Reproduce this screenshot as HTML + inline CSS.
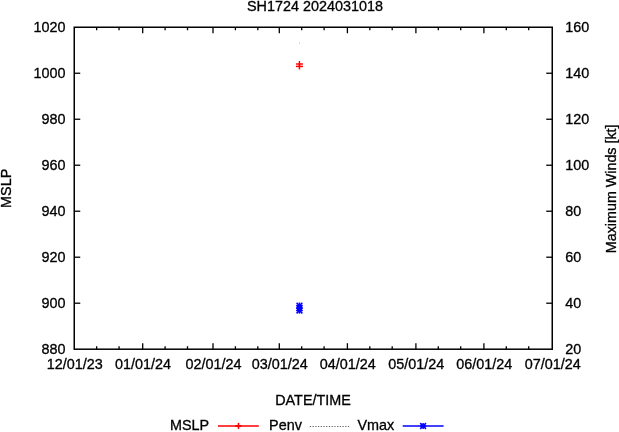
<!DOCTYPE html>
<html><head><meta charset="utf-8"><title>SH1724 2024031018</title>
<style>
html,body{margin:0;padding:0;background:#fff;overflow:hidden}
svg{display:block}
text{font-family:"Liberation Sans",Arial,sans-serif;font-size:14.4px;fill:#000;stroke:#000;stroke-width:0.3px}
</style></head><body>
<svg width="619" height="432" viewBox="0 0 619 432">
<rect width="619" height="432" fill="#fff"/>
<rect x="74.25" y="27.25" width="478.0" height="321.95" fill="none" stroke="#000" stroke-width="1.5"/>
<text transform="translate(65.60,32.40) scale(1,1.05)" text-anchor="end">1020</text>
<text transform="translate(565.30,32.40) scale(1,1.05)">160</text>
<line x1="74.25" y1="73.24" x2="80.25" y2="73.24" stroke="#000" stroke-width="1.3" />
<line x1="546.25" y1="73.24" x2="552.25" y2="73.24" stroke="#000" stroke-width="1.3" />
<text transform="translate(65.60,78.39) scale(1,1.05)" text-anchor="end">1000</text>
<text transform="translate(565.30,78.39) scale(1,1.05)">140</text>
<line x1="74.25" y1="119.24" x2="80.25" y2="119.24" stroke="#000" stroke-width="1.3" />
<line x1="546.25" y1="119.24" x2="552.25" y2="119.24" stroke="#000" stroke-width="1.3" />
<text transform="translate(65.60,124.39) scale(1,1.05)" text-anchor="end">980</text>
<text transform="translate(565.30,124.39) scale(1,1.05)">120</text>
<line x1="74.25" y1="165.23" x2="80.25" y2="165.23" stroke="#000" stroke-width="1.3" />
<line x1="546.25" y1="165.23" x2="552.25" y2="165.23" stroke="#000" stroke-width="1.3" />
<text transform="translate(65.60,170.38) scale(1,1.05)" text-anchor="end">960</text>
<text transform="translate(565.30,170.38) scale(1,1.05)">100</text>
<line x1="74.25" y1="211.22" x2="80.25" y2="211.22" stroke="#000" stroke-width="1.3" />
<line x1="546.25" y1="211.22" x2="552.25" y2="211.22" stroke="#000" stroke-width="1.3" />
<text transform="translate(65.60,216.37) scale(1,1.05)" text-anchor="end">940</text>
<text transform="translate(565.30,216.37) scale(1,1.05)">80</text>
<line x1="74.25" y1="257.21" x2="80.25" y2="257.21" stroke="#000" stroke-width="1.3" />
<line x1="546.25" y1="257.21" x2="552.25" y2="257.21" stroke="#000" stroke-width="1.3" />
<text transform="translate(65.60,262.36) scale(1,1.05)" text-anchor="end">920</text>
<text transform="translate(565.30,262.36) scale(1,1.05)">60</text>
<line x1="74.25" y1="303.21" x2="80.25" y2="303.21" stroke="#000" stroke-width="1.3" />
<line x1="546.25" y1="303.21" x2="552.25" y2="303.21" stroke="#000" stroke-width="1.3" />
<text transform="translate(65.60,308.36) scale(1,1.05)" text-anchor="end">900</text>
<text transform="translate(565.30,308.36) scale(1,1.05)">40</text>
<text transform="translate(65.60,354.35) scale(1,1.05)" text-anchor="end">880</text>
<text transform="translate(565.30,354.35) scale(1,1.05)">20</text>
<text transform="translate(74.65,369.00) scale(1,1.05)" text-anchor="middle">12/01/23</text>
<line x1="96.65" y1="349.2" x2="96.65" y2="346.2" stroke="#000" stroke-width="1.3" />
<line x1="96.65" y1="27.25" x2="96.65" y2="30.25" stroke="#000" stroke-width="1.3" />
<line x1="119.05" y1="349.2" x2="119.05" y2="346.2" stroke="#000" stroke-width="1.3" />
<line x1="119.05" y1="27.25" x2="119.05" y2="30.25" stroke="#000" stroke-width="1.3" />
<line x1="142.70" y1="349.2" x2="142.70" y2="343.2" stroke="#000" stroke-width="1.3" />
<line x1="142.70" y1="27.25" x2="142.70" y2="33.25" stroke="#000" stroke-width="1.3" />
<text transform="translate(143.10,369.00) scale(1,1.05)" text-anchor="middle">01/01/24</text>
<line x1="165.10" y1="349.2" x2="165.10" y2="346.2" stroke="#000" stroke-width="1.3" />
<line x1="165.10" y1="27.25" x2="165.10" y2="30.25" stroke="#000" stroke-width="1.3" />
<line x1="187.50" y1="349.2" x2="187.50" y2="346.2" stroke="#000" stroke-width="1.3" />
<line x1="187.50" y1="27.25" x2="187.50" y2="30.25" stroke="#000" stroke-width="1.3" />
<line x1="213.00" y1="349.2" x2="213.00" y2="343.2" stroke="#000" stroke-width="1.3" />
<line x1="213.00" y1="27.25" x2="213.00" y2="33.25" stroke="#000" stroke-width="1.3" />
<text transform="translate(213.40,369.00) scale(1,1.05)" text-anchor="middle">02/01/24</text>
<line x1="235.40" y1="349.2" x2="235.40" y2="346.2" stroke="#000" stroke-width="1.3" />
<line x1="235.40" y1="27.25" x2="235.40" y2="30.25" stroke="#000" stroke-width="1.3" />
<line x1="257.80" y1="349.2" x2="257.80" y2="346.2" stroke="#000" stroke-width="1.3" />
<line x1="257.80" y1="27.25" x2="257.80" y2="30.25" stroke="#000" stroke-width="1.3" />
<line x1="279.30" y1="349.2" x2="279.30" y2="343.2" stroke="#000" stroke-width="1.3" />
<line x1="279.30" y1="27.25" x2="279.30" y2="33.25" stroke="#000" stroke-width="1.3" />
<text transform="translate(279.70,369.00) scale(1,1.05)" text-anchor="middle">03/01/24</text>
<line x1="301.70" y1="349.2" x2="301.70" y2="346.2" stroke="#000" stroke-width="1.3" />
<line x1="301.70" y1="27.25" x2="301.70" y2="30.25" stroke="#000" stroke-width="1.3" />
<line x1="324.10" y1="349.2" x2="324.10" y2="346.2" stroke="#000" stroke-width="1.3" />
<line x1="324.10" y1="27.25" x2="324.10" y2="30.25" stroke="#000" stroke-width="1.3" />
<line x1="347.40" y1="349.2" x2="347.40" y2="343.2" stroke="#000" stroke-width="1.3" />
<line x1="347.40" y1="27.25" x2="347.40" y2="33.25" stroke="#000" stroke-width="1.3" />
<text transform="translate(347.80,369.00) scale(1,1.05)" text-anchor="middle">04/01/24</text>
<line x1="369.80" y1="349.2" x2="369.80" y2="346.2" stroke="#000" stroke-width="1.3" />
<line x1="369.80" y1="27.25" x2="369.80" y2="30.25" stroke="#000" stroke-width="1.3" />
<line x1="392.20" y1="349.2" x2="392.20" y2="346.2" stroke="#000" stroke-width="1.3" />
<line x1="392.20" y1="27.25" x2="392.20" y2="30.25" stroke="#000" stroke-width="1.3" />
<line x1="415.90" y1="349.2" x2="415.90" y2="343.2" stroke="#000" stroke-width="1.3" />
<line x1="415.90" y1="27.25" x2="415.90" y2="33.25" stroke="#000" stroke-width="1.3" />
<text transform="translate(416.30,369.00) scale(1,1.05)" text-anchor="middle">05/01/24</text>
<line x1="438.30" y1="349.2" x2="438.30" y2="346.2" stroke="#000" stroke-width="1.3" />
<line x1="438.30" y1="27.25" x2="438.30" y2="30.25" stroke="#000" stroke-width="1.3" />
<line x1="460.70" y1="349.2" x2="460.70" y2="346.2" stroke="#000" stroke-width="1.3" />
<line x1="460.70" y1="27.25" x2="460.70" y2="30.25" stroke="#000" stroke-width="1.3" />
<line x1="483.90" y1="349.2" x2="483.90" y2="343.2" stroke="#000" stroke-width="1.3" />
<line x1="483.90" y1="27.25" x2="483.90" y2="33.25" stroke="#000" stroke-width="1.3" />
<text transform="translate(484.30,369.00) scale(1,1.05)" text-anchor="middle">06/01/24</text>
<line x1="506.30" y1="349.2" x2="506.30" y2="346.2" stroke="#000" stroke-width="1.3" />
<line x1="506.30" y1="27.25" x2="506.30" y2="30.25" stroke="#000" stroke-width="1.3" />
<line x1="528.70" y1="349.2" x2="528.70" y2="346.2" stroke="#000" stroke-width="1.3" />
<line x1="528.70" y1="27.25" x2="528.70" y2="30.25" stroke="#000" stroke-width="1.3" />
<text transform="translate(552.65,369.00) scale(1,1.05)" text-anchor="middle">07/01/24</text>
<text transform="translate(315.00,11.00) scale(1,1.05)" text-anchor="middle">SH1724 2024031018</text>
<text transform="translate(313.00,405.00) scale(1,1.05)" text-anchor="middle">DATE/TIME</text>
<text transform="translate(10.70,188.30) rotate(-90) scale(1,1.03)" text-anchor="middle">MSLP</text>
<text transform="translate(615.50,188.80) rotate(-90) scale(0.994,1.03)" text-anchor="middle">Maximum Winds [kt]</text>
<text transform="translate(170.00,429.90) scale(1,1.05)">MSLP</text>
<line x1="218" y1="425.9" x2="258.8" y2="425.9" stroke="#f00" stroke-width="1.45" />
<line x1="238.5" y1="422.9" x2="238.5" y2="428.9" stroke="#f00" stroke-width="1.6" />
<line x1="235.2" y1="425.9" x2="241.6" y2="425.9" stroke="#f00" stroke-width="1.8" />
<text transform="translate(269.10,429.90) scale(1,1.05)">Penv</text>
<line x1="309.8" y1="426.5" x2="350.2" y2="426.5" stroke="#6a6a6a" stroke-width="1" stroke-dasharray="1.3 1.42"/>
<text transform="translate(357.50,429.90) scale(1,1.05)">Vmax</text>
<line x1="402.7" y1="425.9" x2="443.6" y2="425.9" stroke="#00f" stroke-width="1.45" />
<line x1="420.0" y1="426.0" x2="426.20000000000005" y2="426.0" stroke="#00f" stroke-width="1.5" /><line x1="423.1" y1="422.9" x2="423.1" y2="429.1" stroke="#00f" stroke-width="1.5" /><line x1="420.20000000000005" y1="423.1" x2="426.0" y2="428.9" stroke="#00f" stroke-width="1.5" /><line x1="420.20000000000005" y1="428.9" x2="426.0" y2="423.1" stroke="#00f" stroke-width="1.5" /><rect x="421.40" y="424.30" width="3.4" height="3.4" fill="#00f" opacity="0.35"/>
<line x1="295.95" y1="64.0" x2="302.95" y2="64.0" stroke="#f00" stroke-width="1.4" /><line x1="299.45" y1="61.0" x2="299.45" y2="67.0" stroke="#f00" stroke-width="1.4" />
<line x1="295.95" y1="66.4" x2="302.95" y2="66.4" stroke="#f00" stroke-width="1.5" /><line x1="299.45" y1="63.400000000000006" x2="299.45" y2="69.4" stroke="#f00" stroke-width="1.5" />
<rect x="299" y="42" width="1" height="2" fill="#dadada"/>
<line x1="296.34999999999997" y1="305.6" x2="302.55" y2="305.6" stroke="#00f" stroke-width="1.5" /><line x1="299.45" y1="302.5" x2="299.45" y2="308.70000000000005" stroke="#00f" stroke-width="1.5" /><line x1="296.55" y1="302.70000000000005" x2="302.34999999999997" y2="308.5" stroke="#00f" stroke-width="1.5" /><line x1="296.55" y1="308.5" x2="302.34999999999997" y2="302.70000000000005" stroke="#00f" stroke-width="1.5" /><rect x="297.75" y="303.90" width="3.4" height="3.4" fill="#00f" opacity="0.35"/>
<line x1="296.34999999999997" y1="308.05" x2="302.55" y2="308.05" stroke="#00f" stroke-width="1.5" /><line x1="299.45" y1="304.95" x2="299.45" y2="311.15000000000003" stroke="#00f" stroke-width="1.5" /><line x1="296.55" y1="305.15000000000003" x2="302.34999999999997" y2="310.95" stroke="#00f" stroke-width="1.5" /><line x1="296.55" y1="310.95" x2="302.34999999999997" y2="305.15000000000003" stroke="#00f" stroke-width="1.5" /><rect x="297.75" y="306.35" width="3.4" height="3.4" fill="#00f" opacity="0.35"/>
<line x1="296.34999999999997" y1="310.5" x2="302.55" y2="310.5" stroke="#00f" stroke-width="1.5" /><line x1="299.45" y1="307.4" x2="299.45" y2="313.6" stroke="#00f" stroke-width="1.5" /><line x1="296.55" y1="307.6" x2="302.34999999999997" y2="313.4" stroke="#00f" stroke-width="1.5" /><line x1="296.55" y1="313.4" x2="302.34999999999997" y2="307.6" stroke="#00f" stroke-width="1.5" /><rect x="297.75" y="308.80" width="3.4" height="3.4" fill="#00f" opacity="0.35"/>
</svg>
</body></html>
